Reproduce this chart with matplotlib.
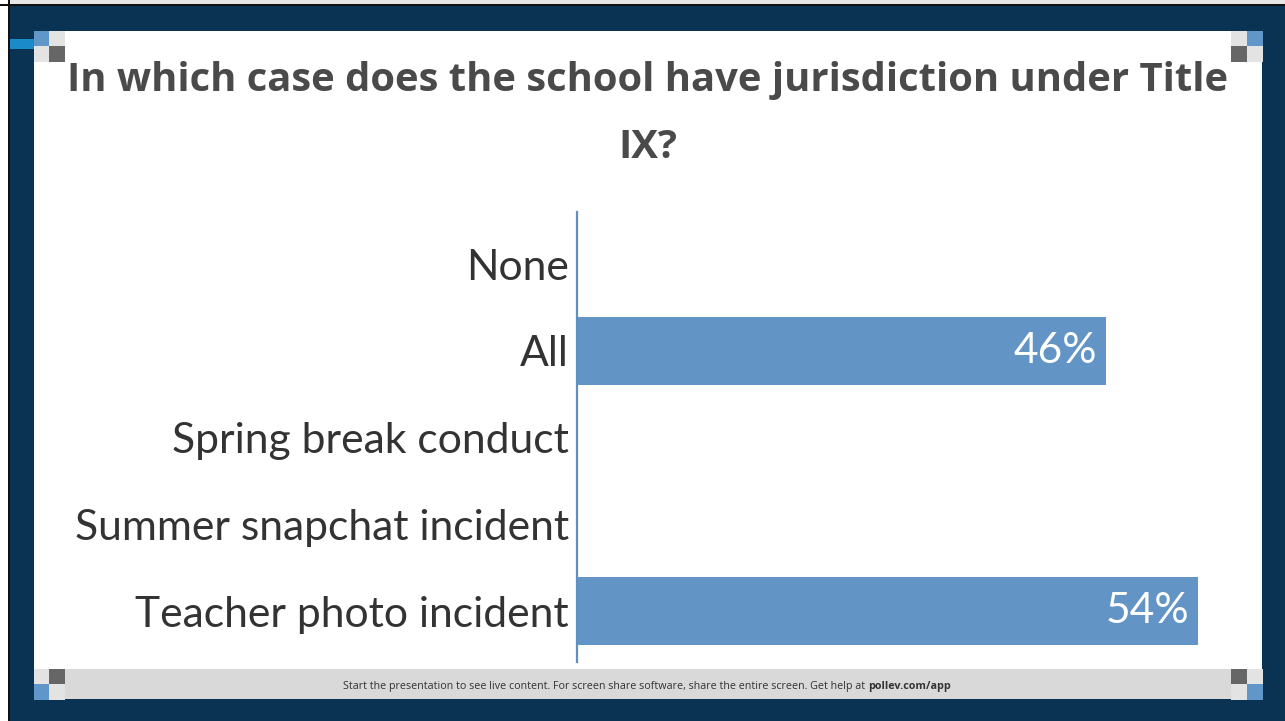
import matplotlib
matplotlib.use("Agg")
import matplotlib.pyplot as plt
from matplotlib.patches import Rectangle

# poll data
categories = ["None", "All", "Spring break conduct", "Summer snapchat incident", "Teacher photo incident"]
percents = [0, 46, 0, 0, 54]
title = "In which case does the school have jurisdiction under Title\nIX?"
footer_plain = "Start the presentation to see live content. For screen share software, share the entire screen. Get help at "
footer_bold = "pollev.com/app"

navy = "#0a3252"
bar_col = "#6394c6"
txt_col = "#333333"
W, H = 1285, 721

fig = plt.figure(figsize=(W / 100, H / 100), dpi=100, facecolor=navy)

# slide frame drawn in pixel coordinates
bg = fig.add_axes([0, 0, 1, 1])
bg.set_xlim(0, W)
bg.set_ylim(H, 0)
bg.axis("off")

def box(x, y, w, h, c):
    bg.add_patch(Rectangle((x, y), w, h, facecolor=c, edgecolor="none"))

box(0, 0, W, 4, "#e6e6e6")
box(0, 0, 8, H, "#ffffff")
box(0, 4, W, 2, "#111111")
box(8, 0, 2, H, "#111111")
box(34, 31, 1228, 638, "#ffffff")
box(65, 669, 1166, 30, "#d9d9d9")
box(10, 39, 24, 10, "#1a8ac8")

light, dark, blue = "#e3e3e3", "#666666", "#6096c8"
# corner squares
for (x, y, c) in [(34, 31, blue), (49, 31, light), (34, 46, light), (49, 46, dark),
                  (1231, 31, light), (1247, 31, blue), (1231, 46, dark), (1247, 46, light),
                  (34, 669, light), (49, 669, dark), (34, 684, blue), (49, 684, light),
                  (1231, 669, dark), (1247, 669, light), (1231, 684, light), (1247, 684, blue)]:
    box(x, y, 15.5, 15.5, c)

bg.text(648, 114, title, ha="center", va="center", fontsize=28.8, fontweight="bold",
        family="Open Sans", color="#4a4a4a", linespacing=1.9)

# footer with bold link, centred as a whole
t1 = bg.text(0, 686, footer_plain, ha="left", va="center", fontsize=7.75, family="Open Sans", color=txt_col)
t2 = bg.text(0, 686, footer_bold, ha="left", va="center", fontsize=7.75, family="Open Sans",
             fontweight="bold", color=txt_col)
fig.canvas.draw()
r = fig.canvas.get_renderer()
w1 = t1.get_window_extent(r).width
w2 = t2.get_window_extent(r).width
x0 = 647 - (w1 + w2) / 2
t1.set_x(x0)
t2.set_x(x0 + w1)

# bar chart
ax = fig.add_axes([577 / W, 1 - 662 / H, (1250 - 577) / W, (662 - 212) / H])
ax.set_facecolor("none")
pos = list(range(len(categories)))
ax.barh(pos, percents, height=0.785, color=bar_col)
ax.set_xlim(0, 58.5)
ax.set_ylim(4.588, -0.603)
ax.set_yticks(pos)
ax.set_yticklabels(categories, fontsize=30.7, family="Lato", color=txt_col)
ax.tick_params(axis="y", length=0, pad=6)
ax.set_xticks([])
for s in ["top", "right", "bottom"]:
    ax.spines[s].set_visible(False)
ax.spines["left"].set_color("#5f8fc3")
ax.spines["left"].set_linewidth(1.6)

for p, v in zip(pos, percents):
    if v > 0:
        ax.text(v - 0.8, p, f"{v}%", ha="right", va="center", fontsize=30.7,
                family="Lato", color="white")

fig.savefig("out.png", dpi=100, facecolor=navy)
